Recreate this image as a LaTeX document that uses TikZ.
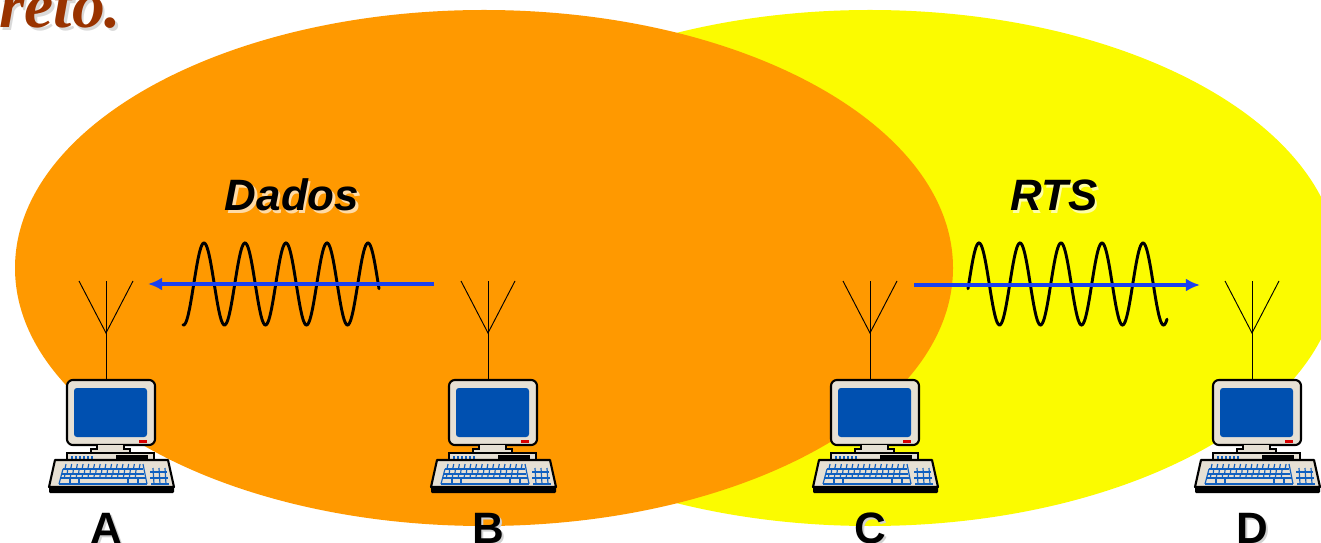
\documentclass[tikz,border=0pt]{standalone}
\usepackage{fontspec}
\setmainfont{Liberation Sans}
\newfontfamily\titlefont{Liberation Serif}
\usepackage{xcolor}
\usetikzlibrary{arrows.meta}

\definecolor{rangeA}{HTML}{FF9900}
\definecolor{rangeB}{HTML}{FBFB00}
\definecolor{casing}{HTML}{E6E0D4}
\definecolor{screen}{HTML}{0050B0}
\definecolor{keyline}{HTML}{1060C0}
\definecolor{signal}{HTML}{1A40F0}
\definecolor{heading}{HTML}{993300}

\newcommand{\shadowed}[2]{\rlap{\kern2pt\raisebox{-2pt}{\color{#1}#2}}#2}

\tikzset{
    lbl/.style={font=\fontsize{37.5}{40}\selectfont\bfseries, inner sep=0pt, anchor=base},
    lblit/.style={lbl, font=\fontsize{37.5}{40}\selectfont\bfseries\itshape},
    wave/.style={black, line width=2.5pt, line cap=round},
    txline/.style={signal, line width=2.6pt, -{Latex[length=12pt, width=11pt]}},
    keys/.style={keyline, line width=1pt},
    station/.pic={
        % antenna
        \draw[line width=0.8pt] (0,0) -- (0,-99);
        \draw[line width=0.8pt] (-27,-99) -- (0,-47) -- (27,-99);
        % monitor
        \draw[fill=casing, line width=1.8pt, rounded corners=5pt] (-39,0) rectangle (49,65);
        \fill[screen, rounded corners=2.5pt] (-32,8) rectangle (41,57);
        \fill[red!85!black] (33,60) rectangle (41,63);
        \draw[fill=casing, line width=0.9pt] (-9,65) -- (-9,69) -- (-15,69) -- (-15,73) -- (24,73) -- (24,69) -- (18,69) -- (18,65);
        \draw[fill=casing, line width=0.9pt] (-39,73) rectangle (48,80);
        \fill[black] (10,75) rectangle (42,80);
        \foreach \i in {0,...,5} {
            \fill[keyline] (-35+4*\i,76) rectangle (-33+4*\i,79);
        }
        % keyboard
        \fill[black, rounded corners=1pt] (-57,105) -- (68,105) -- (68,113) -- (-57,113) -- cycle;
        \draw[fill=casing, line width=1.8pt, line join=round] (-51,80) -- (62,80) -- (68,107) -- (-57,107) -- cycle;
        \foreach \i in {0,...,13} {
            \draw[keys] (-40+5.7*\i,84) -- (-41+5.7*\i,89);
        }
        \draw[keys] (-43,89) -- (37,89) (-44,94) -- (38,94) (-45.5,98) -- (40,98) (-47,104) -- (41,104);
        \draw[keys] (-43,89) -- (-47,104) (37,84) -- (41,104);
        \foreach \i in {1,...,13} {
            \draw[keys] (-44+5.7*\i,89) -- (-44.5+5.7*\i,94);
            \draw[keys] (-47+5.9*\i,94) -- (-47.5+5.9*\i,98);
        }
        \foreach \xa in {-36,-27,22,32} {
            \draw[keys] (\xa,98) -- (\xa,104);
        }
        \foreach \xa in {47,53,59} {
            \draw[keys] (\xa,88) -- (\xa+1,104);
        }
        \draw[keys] (44,92) -- (61,92) (44,98) -- (62,98) (45,104) -- (63,104);
    }
}

\begin{document}
\begin{tikzpicture}[x=0.03cm, y=-0.03cm]
    \useasboundingbox (0,0) rectangle (1321,543);
    \clip (0,0) rectangle (1321,543);

    \fill[rangeB] (870,268) ellipse [x radius=469, y radius=258];
    \fill[rangeA] (484,268) ellipse [x radius=469, y radius=258];

    \node[anchor=base west, inner sep=0pt, heading, font=\fontsize{56}{58}\titlefont\bfseries\itshape] (title) at (-1,28) {\shadowed{black!15}{reto.}};

    \pic (stA) at (106,380) {station};
    \pic (stB) at (488,380) {station};
    \pic (stC) at (870,380) {station};
    \pic (stD) at (1252,380) {station};

    \node[lbl] (lblA) at (106,543) {\shadowed{black!18}{A}};
    \node[lbl] (lblB) at (488,543) {\shadowed{black!18}{B}};
    \node[lbl] (lblC) at (870,543) {\shadowed{black!18}{C}};
    \node[lbl] (lblD) at (1252,543) {\shadowed{black!18}{D}};

    \node[lblit] (dados) at (292,211) {\shadowed{white!65!rangeA}{Dados}};
    \node[lblit] (rts) at (1054,211) {\shadowed{white!65!rangeB}{RTS}};

    \draw[wave] plot[domain=183:379, samples=220] (\x, {284-41*cos((360/41)*(\x-204))});
    \draw[wave] plot[domain=968:1167, samples=220] (\x, {284-41*cos((360/41)*(\x-979))});

    \coordinate (txB) at (434,284);
    \coordinate (rxA) at (148,284);
    \coordinate (txC) at (914,285);
    \coordinate (rxD) at (1200,285);
    \draw[txline] (txB) -- (rxA);
    \draw[txline] (txC) -- (rxD);
\end{tikzpicture}
\end{document}
